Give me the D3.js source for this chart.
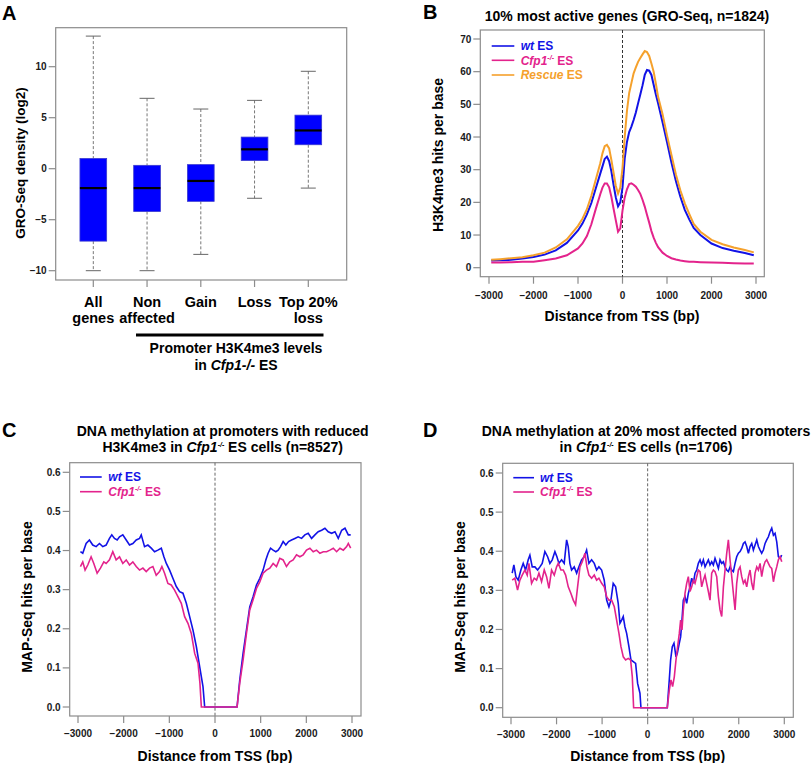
<!DOCTYPE html>
<html><head><meta charset="utf-8">
<script src="https://cdn.jsdelivr.net/npm/d3@7"></script>
<style>
body{margin:0;background:#fff;}
svg{display:block;font-family:"Liberation Sans",Arial,sans-serif;font-weight:bold;}
</style></head><body>
<svg id="fig" width="812" height="763"></svg>
<script>
// ---------- Panel A data (box plots) ----------
const aCategories = ["All genes","Non affected","Gain","Loss","Top 20% loss"];
const aLabelLines = [["All","genes"],["Non","affected"],["Gain"],["Loss"],["Top 20%","loss"]];
const aWhiskerLow = [-10, -10, -8.4, -2.9, -1.9];
const aQ1         = [-7.1, -4.2, -3.2, 0.8, 2.35];
const aMedian     = [-1.9, -1.9, -1.2, 1.9, 3.75];
const aQ3         = [1.0, 0.33, 0.4, 3.1, 5.25];
const aWhiskerHigh= [13.0, 6.9, 5.85, 6.7, 9.55];
const aYTicks = [-10,-5,0,5,10];

// ---------- Panel B data (H3K4me3 profiles) ----------
const bPos = [-2950,-2750,-2500,-2250,-2000,-1750,-1500,-1250,-1000,-900,-800,-700,-600,-500,-450,-400,-350,-300,-250,-200,-150,-100,-50,0,50,100,150,200,250,300,350,400,450,500,550,600,650,700,750,800,900,1000,1100,1200,1300,1400,1500,1600,1750,2000,2250,2500,2750,2950];
const bWt = [2.2,2.3,2.4,2.8,3.3,4.0,5.3,7.6,11.4,13.5,16.3,19.8,24.3,28.8,31.0,33.3,34.0,32.6,29.5,25.3,21.5,18.8,20.0,24.5,33.5,38.5,41.5,43.2,45.2,47.5,50.3,53.0,55.8,59.0,60.5,60.3,59.0,56.0,53.0,50.3,44.5,38.5,32.2,26.5,21.7,17.7,14.8,12.2,10.0,7.4,6.0,5.2,4.5,3.8];
const bCfp1 = [1.6,1.6,1.7,1.8,1.8,2.3,2.8,3.8,5.9,7.4,9.7,13.3,18.0,22.5,24.5,25.8,25.8,24.6,21.7,18.0,14.5,11.0,12.0,17.5,21.5,24.0,25.6,25.8,25.4,24.8,23.8,22.6,20.8,18.7,16.2,13.8,11.2,9.2,7.6,6.3,4.6,3.6,2.9,2.5,2.2,2.0,1.8,1.8,1.7,1.6,1.5,1.4,1.3,1.3];
const bRescue = [2.4,2.6,2.9,3.2,3.8,4.6,6.2,8.7,12.8,15.0,17.9,22.0,27.0,32.0,35.0,37.2,37.6,36.5,33.0,29.0,25.0,22.7,24.5,30.5,40.0,48.0,53.5,56.5,59.5,61.3,63.0,64.2,65.3,66.3,66.0,64.8,62.5,60.0,56.3,52.3,47.0,40.5,34.5,28.5,23.7,19.7,16.5,13.4,11.0,8.5,7.2,6.2,5.4,4.7];
const bYTicks = [0,10,20,30,40,50,60,70];
const xTicksTSS = [-3000,-2000,-1000,0,1000,2000,3000];

// ---------- Panel C data (MAP-Seq, n=8527) ----------
const cWtPos = [-2947,-2896,-2822,-2750,-2677,-2603,-2530,-2458,-2384,-2311,-2260,-2201,-2142,-2091,-2019,-1944,-1872,-1799,-1725,-1652,-1615,-1543,-1470,-1396,-1323,-1251,-1176,-1119,-1066,-994,-922,-847,-775,-702,-628,-555,-483,-408,-336,-263,-226,483,542,615,689,761,834,908,981,1053,1113,1163,1216,1273,1332,1383,1435,1492,1551,1611,1676,1749,1821,1896,1968,2041,2115,2188,2260,2335,2407,2480,2554,2627,2699,2774,2846,2919,2971];
const cWt = [0.397,0.393,0.418,0.427,0.414,0.410,0.418,0.410,0.414,0.431,0.440,0.431,0.427,0.435,0.440,0.427,0.414,0.418,0.427,0.431,0.440,0.410,0.414,0.406,0.397,0.401,0.406,0.384,0.367,0.350,0.329,0.308,0.295,0.291,0.265,0.231,0.197,0.154,0.103,0.052,0,0,0.069,0.137,0.197,0.256,0.282,0.312,0.329,0.350,0.376,0.393,0.406,0.401,0.397,0.401,0.410,0.423,0.414,0.423,0.427,0.431,0.435,0.431,0.440,0.444,0.431,0.440,0.448,0.452,0.457,0.448,0.444,0.448,0.431,0.452,0.457,0.440,0.440];
const cCfp1Pos = [-2947,-2896,-2845,-2786,-2713,-2654,-2581,-2508,-2435,-2384,-2311,-2238,-2165,-2091,-2019,-1944,-1872,-1799,-1725,-1652,-1579,-1506,-1433,-1360,-1287,-1214,-1163,-1104,-1031,-958,-885,-812,-738,-665,-592,-519,-445,-372,-330,-299,483,542,615,689,761,834,908,981,1053,1126,1200,1273,1346,1419,1492,1565,1638,1711,1785,1858,1931,2004,2078,2151,2224,2297,2371,2444,2517,2590,2663,2737,2810,2883,2919,2971];
const cCfp1 = [0.359,0.371,0.350,0.363,0.384,0.367,0.342,0.355,0.371,0.367,0.376,0.397,0.376,0.384,0.367,0.376,0.363,0.371,0.359,0.350,0.355,0.346,0.355,0.359,0.337,0.346,0.359,0.342,0.316,0.312,0.299,0.282,0.265,0.231,0.214,0.188,0.137,0.112,0.061,0,0,0.061,0.120,0.188,0.248,0.274,0.303,0.320,0.342,0.350,0.355,0.367,0.359,0.380,0.376,0.359,0.371,0.376,0.389,0.384,0.389,0.401,0.406,0.397,0.401,0.393,0.397,0.397,0.401,0.406,0.397,0.406,0.401,0.410,0.418,0.406];

// ---------- Panel D data (MAP-Seq, n=1706) ----------
const dWtPos = [-2974,-2937,-2893,-2842,-2783,-2732,-2680,-2622,-2585,-2534,-2475,-2416,-2365,-2315,-2256,-2196,-2146,-2095,-2036,-1992,-1948,-1889,-1832,-1779,-1744,-1707,-1670,-1612,-1559,-1509,-1450,-1392,-1340,-1289,-1230,-1172,-1120,-1070,-1010,-953,-900,-850,-806,-756,-703,-646,-608,-571,-536,-499,-461,-411,-367,-316,-264,-220,-169,-147,431,475,504,541,578,622,651,695,724,754,783,820,857,893,930,967,1003,1040,1077,1113,1150,1186,1223,1260,1296,1333,1369,1406,1443,1479,1516,1553,1589,1626,1663,1699,1736,1772,1809,1846,1882,1919,1955,1992,2029,2065,2102,2138,2175,2212,2248,2285,2321,2358,2395,2431,2468,2504,2541,2578,2614,2651,2687,2724,2761,2797,2834,2870,2907,2944];
const dWt = [0.344,0.365,0.335,0.326,0.352,0.369,0.352,0.378,0.390,0.360,0.360,0.352,0.360,0.369,0.399,0.386,0.369,0.378,0.399,0.386,0.369,0.378,0.369,0.429,0.412,0.369,0.352,0.360,0.344,0.360,0.378,0.386,0.403,0.369,0.378,0.369,0.352,0.360,0.352,0.326,0.275,0.258,0.275,0.318,0.309,0.267,0.216,0.224,0.233,0.207,0.190,0.156,0.122,0.118,0.113,0.062,0.037,0,0,0.071,0.122,0.156,0.165,0.130,0.139,0.165,0.181,0.224,0.275,0.284,0.267,0.292,0.309,0.331,0.318,0.344,0.352,0.369,0.378,0.365,0.378,0.360,0.369,0.378,0.365,0.373,0.365,0.382,0.369,0.356,0.378,0.369,0.373,0.360,0.352,0.348,0.360,0.352,0.348,0.369,0.386,0.395,0.399,0.407,0.420,0.424,0.412,0.395,0.412,0.420,0.403,0.416,0.429,0.412,0.403,0.395,0.403,0.420,0.429,0.437,0.450,0.459,0.441,0.446,0.424,0.386,0.382,0.390];
const dCfp1Pos = [-2974,-2915,-2856,-2805,-2754,-2695,-2644,-2607,-2548,-2490,-2438,-2387,-2329,-2270,-2219,-2167,-2109,-2050,-1999,-1962,-1904,-1853,-1801,-1743,-1684,-1633,-1582,-1538,-1486,-1435,-1377,-1333,-1289,-1230,-1172,-1120,-1070,-1010,-953,-900,-850,-791,-732,-681,-630,-586,-535,-483,-425,-374,-337,-308,431,475,512,548,585,622,658,695,724,754,783,820,857,893,930,967,1003,1040,1077,1113,1150,1186,1223,1260,1296,1333,1369,1406,1443,1479,1516,1553,1589,1626,1663,1699,1736,1772,1809,1846,1882,1919,1955,1992,2029,2065,2102,2138,2175,2212,2248,2285,2321,2358,2395,2431,2468,2504,2541,2578,2614,2651,2687,2724,2761,2797,2834,2870,2907,2944];
const dCfp1 = [0.326,0.331,0.301,0.326,0.339,0.352,0.339,0.369,0.318,0.331,0.326,0.344,0.322,0.352,0.335,0.305,0.352,0.339,0.360,0.369,0.352,0.352,0.339,0.309,0.292,0.275,0.263,0.309,0.360,0.373,0.395,0.360,0.339,0.331,0.339,0.326,0.331,0.318,0.309,0.284,0.275,0.275,0.258,0.224,0.190,0.156,0.130,0.122,0.126,0.122,0.079,0,0,0.045,0.071,0.054,0.079,0.122,0.156,0.190,0.224,0.199,0.250,0.292,0.318,0.335,0.297,0.309,0.326,0.318,0.335,0.352,0.348,0.309,0.326,0.339,0.318,0.297,0.275,0.344,0.352,0.348,0.335,0.284,0.250,0.233,0.309,0.352,0.395,0.429,0.378,0.335,0.292,0.250,0.318,0.352,0.360,0.335,0.318,0.326,0.309,0.335,0.352,0.318,0.301,0.344,0.360,0.352,0.369,0.335,0.360,0.373,0.378,0.369,0.360,0.356,0.322,0.344,0.360,0.378,0.386,0.373];
const mapYTicks = [0,0.1,0.2,0.3,0.4,0.5,0.6];

// ---------- styles ----------
const BLUE = "#1212e6", PINK = "#e3238c", ORANGE = "#f5a12c", FRAME = "#8c8c8c", TXT = "#1a1a1a";
const svg = d3.select("#fig");

function richText(sel, segs){
  segs.forEach(s=>{
    const t = sel.append("tspan").text(s.t);
    if(s.i) t.attr("font-style","italic");
    if(s.sup){ t.attr("font-size", s.sup).attr("dy", -5); }
    if(s.down){ t.attr("dy", 5); }
  });
  return sel;
}
function frame(x0,x1,y0,y1){
  svg.append("rect").attr("x",x0).attr("y",y0).attr("width",x1-x0).attr("height",y1-y0)
    .attr("fill","none").attr("stroke",FRAME).attr("stroke-width",1.2);
}
function yAxis(scale, ticks, xEdge, fmt, fs){
  const g = svg.append("g");
  ticks.forEach(v=>{
    const y = scale(v);
    g.append("line").attr("x1",xEdge-7).attr("x2",xEdge).attr("y1",y).attr("y2",y).attr("stroke",FRAME).attr("stroke-width",1.2);
    g.append("text").attr("x",xEdge-9).attr("y",y).attr("dy","0.35em").attr("text-anchor","end")
      .attr("font-size",fs).attr("fill",TXT).text(fmt(v));
  });
}
function xAxis(scale, ticks, yEdge, labelY, fmt, fs){
  const g = svg.append("g");
  ticks.forEach(v=>{
    const x = scale(v);
    g.append("line").attr("x1",x).attr("x2",x).attr("y1",yEdge).attr("y2",yEdge+7).attr("stroke",FRAME).attr("stroke-width",1.2);
    if(fmt) g.append("text").attr("x",x).attr("y",labelY).attr("text-anchor","middle")
      .attr("font-size",fs).attr("fill",TXT).text(fmt(v));
  });
}
function yTitle(x, y, str, fs){
  svg.append("text").attr("transform",`translate(${x},${y}) rotate(-90)`).attr("text-anchor","middle")
    .attr("dy","0.35em").attr("font-size",fs).attr("fill","#000").text(str);
}
function panelLetter(x,y,l){
  svg.append("text").attr("x",x).attr("y",y).attr("font-size",20).attr("fill","#000").text(l);
}
function legend(items, x0, x1, tx, ys){
  items.forEach((it,i)=>{
    svg.append("line").attr("x1",x0).attr("x2",x1).attr("y1",ys[i]).attr("y2",ys[i]).attr("stroke",it.color).attr("stroke-width",1.6);
    const t = svg.append("text").attr("x",tx).attr("y",ys[i]).attr("dy","0.36em").attr("font-size",12).attr("fill",it.color);
    richText(t, it.segs);
  });
}
const fmtInt = d3.format("d");

// ================= Panel A =================
(function(){
  const xA = d3.scalePoint().domain(aCategories).range([93.3, 308.3]);
  const yA = d3.scaleLinear().domain([-10,10]).range([270.7, 66.7]);
  const bw = 26.7, cap = 7.5;
  frame(55.7, 346.7, 27.7, 280);
  yAxis(yA, aYTicks, 55.7, fmtInt, 10);
  xAxis(xA, aCategories, 280, 0, null, 10);
  const g = svg.append("g");
  aCategories.forEach((c,i)=>{
    const cx = xA(c);
    g.append("line").attr("x1",cx).attr("x2",cx).attr("y1",yA(aWhiskerHigh[i])).attr("y2",yA(aQ3[i]))
      .attr("stroke","#777").attr("stroke-dasharray","3,2").attr("stroke-width",1);
    g.append("line").attr("x1",cx).attr("x2",cx).attr("y1",yA(aQ1[i])).attr("y2",yA(aWhiskerLow[i]))
      .attr("stroke","#777").attr("stroke-dasharray","3,2").attr("stroke-width",1);
    [aWhiskerHigh[i], aWhiskerLow[i]].forEach(v=>{
      g.append("line").attr("x1",cx-cap).attr("x2",cx+cap).attr("y1",yA(v)).attr("y2",yA(v)).attr("stroke","#666").attr("stroke-width",1);
    });
    g.append("rect").attr("x",cx-bw/2).attr("width",bw).attr("y",yA(aQ3[i])).attr("height",yA(aQ1[i])-yA(aQ3[i]))
      .attr("fill","#0000ff").attr("stroke","#3a3ad0").attr("stroke-width",0.8);
    g.append("line").attr("x1",cx-bw/2).attr("x2",cx+bw/2).attr("y1",yA(aMedian[i])).attr("y2",yA(aMedian[i]))
      .attr("stroke","#000").attr("stroke-width",2.2);
    aLabelLines[i].forEach((ln,j)=>{
      g.append("text").attr("x",cx).attr("y",306.5+j*16.5).attr("text-anchor","middle").attr("font-size",14.5).attr("fill","#000").text(ln);
    });
  });
  svg.append("line").attr("x1",136).attr("x2",323.5).attr("y1",335).attr("y2",335).attr("stroke","#000").attr("stroke-width",3);
  svg.append("text").attr("x",236).attr("y",353).attr("text-anchor","middle").attr("font-size",14).attr("fill","#000").text("Promoter H3K4me3 levels");
  richText(svg.append("text").attr("x",236).attr("y",369.5).attr("text-anchor","middle").attr("font-size",14).attr("fill","#000"),
    [{t:"in "},{t:"Cfp1-/-",i:true},{t:" ES"}]);
  yTitle(20, 163, "GRO-Seq density (log2)", 13.5);
  panelLetter(2, 20, "A");
})();

// ================= Panel B =================
(function(){
  const xB = d3.scaleLinear().domain([-3000,3000]).range([489, 756]);
  const yB = d3.scaleLinear().domain([0,70]).range([267.7, 39]);
  frame(480.3, 764.3, 30, 276.7);
  yAxis(yB, bYTicks, 480.3, fmtInt, 10);
  xAxis(xB, xTicksTSS, 276.7, 299, fmtInt, 10);
  svg.append("line").attr("x1",xB(0)).attr("x2",xB(0)).attr("y1",30).attr("y2",276.7).attr("stroke","#333").attr("stroke-dasharray","3,2").attr("stroke-width",1);
  const line = d3.line().x(d=>xB(d[0])).y(d=>yB(d[1]));
  [[bWt,BLUE],[bRescue,ORANGE],[bCfp1,PINK]].forEach(([vals,col])=>{
    svg.append("path").datum(bPos.map((p,i)=>[p,vals[i]])).attr("d",line).attr("fill","none").attr("stroke",col).attr("stroke-width",2);
  });
  legend([
    {color:BLUE, segs:[{t:"wt",i:true},{t:" ES"}]},
    {color:PINK, segs:[{t:"Cfp1",i:true},{t:"-/-",i:true,sup:7},{t:" ES",down:true}]},
    {color:ORANGE, segs:[{t:"Rescue",i:true},{t:" ES"}]}
  ], 491.7, 514.3, 520.7, [46, 60.3, 75]);
  svg.append("text").attr("x",627).attr("y",20.5).attr("text-anchor","middle").attr("font-size",14).attr("fill","#000").text("10% most active genes (GRO-Seq, n=1824)");
  yTitle(438, 155, "H3K4me3 hits per base", 14);
  svg.append("text").attr("x",622).attr("y",321).attr("text-anchor","middle").attr("font-size",14).attr("fill","#000").text("Distance from TSS (bp)");
  panelLetter(423, 19, "B");
})();

// ================= Panel C & D =================
function mapPanel(o){
  const x = d3.scaleLinear().domain([-3000,3000]).range(o.xr);
  const y = d3.scaleLinear().domain([0,0.6]).range(o.yr);
  frame(o.fx[0], o.fx[1], o.fy[0], o.fy[1]);
  yAxis(y, mapYTicks, o.fx[0], d3.format(".1f"), 10);
  xAxis(x, xTicksTSS, o.fy[1], o.fy[1]+21, fmtInt, 10);
  svg.append("line").attr("x1",x(0)).attr("x2",x(0)).attr("y1",o.fy[0]).attr("y2",o.fy[1]).attr("stroke","#666").attr("stroke-dasharray","3,2").attr("stroke-width",1);
  const line = d3.line().x(d=>x(d[0])).y(d=>y(d[1]));
  svg.append("path").datum(o.wtPos.map((p,i)=>[p,o.wt[i]])).attr("d",line).attr("fill","none").attr("stroke",BLUE).attr("stroke-width",1.6);
  svg.append("path").datum(o.koPos.map((p,i)=>[p,o.ko[i]])).attr("d",line).attr("fill","none").attr("stroke",PINK).attr("stroke-width",1.6);
  legend([
    {color:BLUE, segs:[{t:"wt",i:true},{t:" ES"}]},
    {color:PINK, segs:[{t:"Cfp1",i:true},{t:"-/-",i:true,sup:7},{t:" ES",down:true}]}
  ], o.leg[0], o.leg[1], o.leg[2], o.legY);
  svg.append("text").attr("x",o.tx).attr("y",435.5).attr("text-anchor","middle").attr("font-size",14).attr("fill","#000").text(o.title1);
  richText(svg.append("text").attr("x",o.tx).attr("y",452).attr("text-anchor","middle").attr("font-size",14).attr("fill","#000"), o.title2);
  yTitle(o.yt, 597, "MAP-Seq hits per base", 14);
  svg.append("text").attr("x",x(0)).attr("y",760.5).attr("text-anchor","middle").attr("font-size",14).attr("fill","#000").text("Distance from TSS (bp)");
  panelLetter(o.lx, 437, o.letter);
}
mapPanel({xr:[78,352], yr:[707,472.3], fx:[69.7,361], fy:[462.7,716],
  wtPos:cWtPos, wt:cWt, koPos:cCfp1Pos, ko:cCfp1, leg:[80,101.7,108.3], legY:[477,491.7],
  tx:222.7, title1:"DNA methylation at promoters with reduced",
  title2:[{t:"H3K4me3 in "},{t:"Cfp1",i:true},{t:"-/-",i:true,sup:7},{t:" ES cells (n=8527)",down:true}],
  yt:26.7, lx:2, letter:"C"});
mapPanel({xr:[511,784.3], yr:[707.7,473], fx:[502.7,793.3], fy:[463.3,717.3],
  wtPos:dWtPos, wt:dWt, koPos:dCfp1Pos, ko:dCfp1, leg:[513.3,534,540], legY:[477.7,492],
  tx:646, title1:"DNA methylation at 20% most affected promoters",
  title2:[{t:"in "},{t:"Cfp1",i:true},{t:"-/-",i:true,sup:7},{t:" ES cells (n=1706)",down:true}],
  yt:460, lx:423, letter:"D"});
</script>
</body></html>
